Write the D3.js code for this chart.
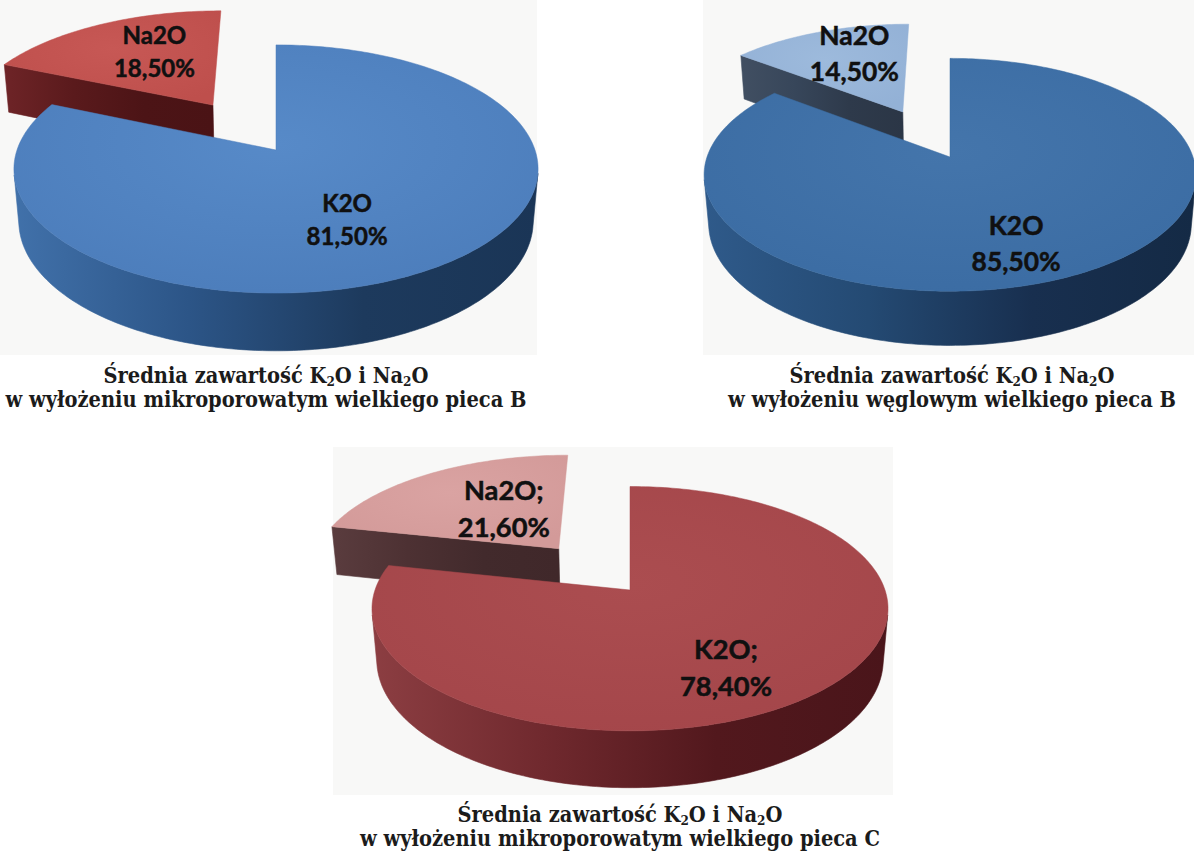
<!DOCTYPE html>
<html>
<head>
<meta charset="utf-8">
<script src="https://cdn.jsdelivr.net/npm/d3@7"></script>
<style>
  html, body { margin: 0; padding: 0; background: #ffffff; }
  svg { display: block; }
</style>
</head>
<body>
<svg id="fig" width="1194" height="852"></svg>
<script>
// ---- data ---------------------------------------------------------------
const categories = ["K2O", "Na2O"];
const sharesMicroB  = [81.5, 18.5];   // mikroporowate, piec B
const sharesCarbonB = [85.5, 14.5];   // węglowe, piec B
const sharesMicroC  = [78.4, 21.6];   // mikroporowate, piec C
const explodedCategory = "Na2O";
const labelSeparators = ["", "", ";"];
const captionFirst = ["Średnia zawartość K", "2", "O i Na", "2", "O"];
const captionSecond = [
  "w wyłożeniu mikroporowatym wielkiego pieca B",
  "w wyłożeniu węglowym wielkiego pieca B",
  "w wyłożeniu mikroporowatym wielkiego pieca C"
];

// ---- 3D view parameters (disc radius = 1) --------------------------------
const RAD = Math.PI / 180;
const PHI = 27.9 * RAD;          // elevation of the camera
const DIST = 5.78;               // camera distance
const DEPTH = 0.23;              // thickness of the disc
const EXPLODE = 0.47;            // pull-out of the exploded slice
const LABEL_STRETCH = 1.23;
const SINP = Math.sin(PHI), COSP = Math.cos(PHI);
const CAM_Z = -DIST * COSP;
const CAPTION_GAP = 24;
const SUB_SHIFT = 3;

const charts = [
  {
    values: sharesMicroB, sep: labelSeparators[0], caption: captionSecond[0],
    layout: { cx: 276, cy: 150, rx: 259, bg: [0, 0, 537, 355], capX: 266, capY: 383,
              labelW: 81, labelLine: 33, labelR: [0.47, 0.49] },
    palette: {
      top:  { K2O: ["#578ac8", "#4c7dbb"], Na2O: ["#c75855", "#be4f4c"] },
      side: { K2O: ["#4171aa", "#2c5587", "#1d3a5d", "#1a3556"], Na2O: ["#6e2427", "#5a1a1c", "#4c1416", "#4a1315"] }
    }
  },
  {
    values: sharesCarbonB, sep: labelSeparators[1], caption: captionSecond[1],
    layout: { cx: 950, cy: 157, rx: 243, bg: [703, 0, 1194, 355], capX: 952, capY: 383,
              labelW: 89, labelLine: 36, labelR: [0.57, 0.55] },
    palette: {
      top:  { K2O: ["#4475ab", "#3b6ca3"], Na2O: ["#9dbadc", "#93b1d6"] },
      side: { K2O: ["#2f5a8a", "#244a73", "#182f4f", "#142a45"], Na2O: ["#414f62", "#37465a", "#2e3a4b", "#2b3646"] }
    }
  },
  {
    values: sharesMicroC, sep: labelSeparators[2], caption: captionSecond[2],
    layout: { cx: 630, cy: 590, rx: 255, bg: [333, 447, 893, 795], capX: 620, capY: 822,
              labelW: 92, labelLine: 37, labelR: [0.56, 0.40] },
    palette: {
      top:  { K2O: ["#ab4d50", "#a4464a"], Na2O: ["#daa3a2", "#d39a99"] },
      side: { K2O: ["#8c3e42", "#70292e", "#52181d", "#4a151a"], Na2O: ["#5a3c3e", "#4d3133", "#422a2c", "#40282a"] }
    }
  }
];

// ---- helpers --------------------------------------------------------------
const svg = d3.select("#fig");
const defs = svg.append("defs");

const line = d3.line();
const pie = d3.pie().sort(null).value(d => d.value).startAngle(0).endAngle(2 * Math.PI);
const pct = v => d3.format(".2f")(v).replace(".", ",") + "%";

function makeProjection(L) {
  const f = L.rx * DIST;
  return (X, Z, Y = 0) => {
    const yc = Y * COSP + Z * SINP;
    const zc = DIST + Z * COSP - Y * SINP;
    return [L.cx + f * X / zc, L.cy - f * yc / zc];
  };
}
// a face with horizontal normal (nx, nz) through (px, pz) is seen by the camera
function facing(nx, nz, px, pz) {
  return nx * (0 - px) + nz * (CAM_Z - pz) > 1e-6;
}

function linearGrad(id, stops) {
  const gr = defs.append("linearGradient").attr("id", id)
    .attr("x1", 0).attr("y1", 0).attr("x2", 1).attr("y2", 0);
  stops.forEach((c, i) => gr.append("stop")
    .attr("offset", i / (stops.length - 1)).attr("stop-color", c));
  return `url(#${id})`;
}
function radialGrad(id, inner, outer) {
  const gr = defs.append("radialGradient").attr("id", id)
    .attr("cx", 0.5).attr("cy", 0.4).attr("r", 0.65);
  gr.append("stop").attr("offset", 0).attr("stop-color", inner);
  gr.append("stop").attr("offset", 1).attr("stop-color", outer);
  return `url(#${id})`;
}

function measure(build) {
  const t = svg.append("text");
  build(t);
  const w = t.node().getBBox().width;
  t.remove();
  return w;
}

function sliceOffset(d) {
  const mid = (d.startAngle + d.endAngle) / 2;
  const off = d.data.exploded ? EXPLODE : 0;
  return { mid, ox: off * Math.sin(mid), oz: off * Math.cos(mid), off };
}

function drawSlice(g, d, proj, palette, key) {
  const { ox, oz } = sliceOffset(d);
  const a0 = d.startAngle, a1 = d.endAngle;
  const n = Math.max(6, Math.ceil((a1 - a0) / RAD));
  const angs = d3.range(n + 1).map(i => a0 + (a1 - a0) * i / n);
  const rim = a => [ox + Math.sin(a), oz + Math.cos(a)];
  const cat = d.data.cat;
  const sideFill = linearGrad(`side-${key}`, palette.side[cat]);
  const topFill = radialGrad(`top-${key}`, palette.top[cat][0], palette.top[cat][1]);

  const faces = [];
  // radial walls of the slice (walls seen almost edge-on are left out)
  [[a0, -Math.cos(a0), Math.sin(a0)], [a1, Math.cos(a1), -Math.sin(a1)]].forEach(([a, nx, nz]) => {
    if (!facing(nx, nz, ox, oz)) return;
    const [X, Z] = rim(a);
    const pts = [proj(ox, oz, 0), proj(X, Z, 0), proj(X, Z, -DEPTH), proj(ox, oz, -DEPTH)];
    if (Math.abs(d3.polygonArea(pts)) < 800) return;
    faces.push({ pts, depth: (oz + Z) / 2 });
  });
  // outer curved wall, only the stretches turned towards the camera
  let run = [];
  const flush = () => {
    if (run.length > 1) {
      const top = run.map(a => { const [X, Z] = rim(a); return proj(X, Z, 0); });
      const bot = run.slice().reverse().map(a => { const [X, Z] = rim(a); return proj(X, Z, -DEPTH); });
      faces.push({ pts: top.concat(bot), depth: d3.mean(run, a => rim(a)[1]) });
    }
    run = [];
  };
  for (let i = 0; i < n; i++) {
    const am = (angs[i] + angs[i + 1]) / 2;
    const [px, pz] = rim(am);
    if (facing(Math.sin(am), Math.cos(am), px, pz)) {
      if (!run.length) run.push(angs[i]);
      run.push(angs[i + 1]);
    } else flush();
  }
  flush();

  faces.sort((p, q) => q.depth - p.depth).forEach(f => {
    g.append("path").attr("d", line(f.pts) + "Z")
      .attr("fill", sideFill).attr("stroke", sideFill).attr("stroke-width", 0.6);
  });

  const topPts = [proj(ox, oz, 0)].concat(angs.map(a => { const [X, Z] = rim(a); return proj(X, Z, 0); }));
  g.append("path").attr("d", line(topPts) + "Z")
    .attr("fill", topFill).attr("stroke", palette.top[cat][1]).attr("stroke-width", 0.5);
}

// ---- label and caption fonts ---------------------------------------------
const LABEL_FONT = "Lato, 'Open Sans', sans-serif";
const CAPTION_FONT = "'DejaVu Serif Condensed', 'DejaVu Serif', 'Liberation Serif', serif";
const refLabelW = measure(t => t.attr("font-family", LABEL_FONT).attr("font-weight", 700)
  .attr("font-size", 100).text("00,00%"));

function captionLine1(t) {
  t.append("tspan").text(captionFirst[0]);
  t.append("tspan").attr("font-size", "0.62em").attr("dy", SUB_SHIFT).text(captionFirst[1]);
  t.append("tspan").attr("dy", -SUB_SHIFT).text(captionFirst[2]);
  t.append("tspan").attr("font-size", "0.62em").attr("dy", SUB_SHIFT).text(captionFirst[3]);
  t.append("tspan").attr("dy", -SUB_SHIFT).text(captionFirst[4]);
}
const refCapW = measure(t => {
  t.attr("font-family", CAPTION_FONT).attr("font-weight", 700).attr("font-size", 18);
  captionLine1(t);
});
const captionSize = 18 * 325 / refCapW;

// ---- draw -----------------------------------------------------------------
charts.forEach((ch, ci) => {
  const L = ch.layout, P = ch.palette;
  const proj = makeProjection(L);
  const g = svg.append("g").attr("class", `chart-${ci}`);

  g.append("rect")
    .attr("x", L.bg[0]).attr("y", L.bg[1])
    .attr("width", L.bg[2] - L.bg[0]).attr("height", L.bg[3] - L.bg[1])
    .attr("fill", "#f8f8f7");

  const arcs = pie(categories.map((c, i) => ({ cat: c, value: ch.values[i], exploded: c === explodedCategory })));

  // far slices first
  arcs.slice()
    .sort((p, q) => {
      const a = sliceOffset(p), b = sliceOffset(q);
      return (b.oz + Math.cos(b.mid)) - (a.oz + Math.cos(a.mid));
    })
    .forEach(d => drawSlice(g, d, proj, P, `${ci}-${d.data.cat}`));

  // data labels
  const fs = 100 * L.labelW / refLabelW;
  arcs.forEach((d, i) => {
    const { mid, off } = sliceOffset(d);
    const t = off + L.labelR[i];
    const [px, py] = proj(t * Math.sin(mid), t * Math.cos(mid), 0);
    const ay = L.cy + (py - L.cy) * LABEL_STRETCH;
    const base1 = ay - L.labelLine / 2 + 0.69 * fs;
    const txt = g.append("text")
      .attr("font-family", LABEL_FONT).attr("font-weight", 700)
      .attr("font-size", fs).attr("fill", "#101010")
      .attr("stroke", "#101010").attr("stroke-width", 0.5)
      .attr("text-anchor", "middle");
    txt.append("tspan").attr("x", px).attr("y", base1).text(d.data.cat + ch.sep);
    txt.append("tspan").attr("x", px).attr("y", base1 + L.labelLine).text(pct(d.data.value));
  });

  // caption
  const c1 = g.append("text")
    .attr("x", L.capX).attr("y", L.capY)
    .attr("font-family", CAPTION_FONT).attr("font-weight", 700)
    .attr("font-size", captionSize).attr("fill", "#1b1b1b")
    .attr("text-anchor", "middle");
  captionLine1(c1);
  g.append("text")
    .attr("x", L.capX).attr("y", L.capY + CAPTION_GAP)
    .attr("font-family", CAPTION_FONT).attr("font-weight", 700)
    .attr("font-size", captionSize).attr("fill", "#1b1b1b")
    .attr("text-anchor", "middle")
    .text(ch.caption);
});
</script>
</body>
</html>
